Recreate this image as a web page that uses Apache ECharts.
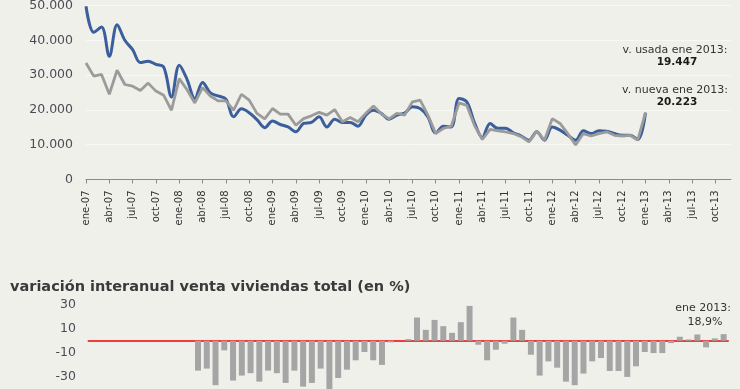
<!DOCTYPE html>
<html>
<head>
<meta charset="utf-8">
<script src="https://cdn.jsdelivr.net/npm/echarts@6/dist/echarts.min.js"></script>
<style>
html,body{margin:0;padding:0;background:#f0f0eb;}
#c{width:740px;height:389px;}
</style>
</head>
<body>
<div id="c"></div>
<script>
// month abbreviations and years for the category axis
var monthNames = ['ene','feb','mar','abr','may','jun','jul','ago','sep','oct','nov','dic'];
var years = ['07','08','09','10','11','12','13'];

// monthly sales, ene-07 .. ene-13 (blue series)
var ventaAzul = [
49800,42300,43800,35400,44500,40000,37300,33600,34000,33100,32300,23700,
32800,28800,23300,27900,24900,24000,23100,18000,20300,19200,17200,14900,
16800,15800,15100,13700,16100,16400,18000,15100,17300,16400,16400,15300,
18500,19900,19000,17300,18500,19100,20900,20400,18000,13400,15300,15100,
23300,22300,16300,12100,16100,14700,14700,13400,12500,11300,13700,11300,
15100,14200,12700,11300,14000,13200,14000,13900,13200,12700,12700,11500,
19200];

// monthly sales, ene-07 .. ene-13 (grey series)
var ventaGris = [
33500,29700,30200,24500,31400,27300,26800,25600,27700,25400,24200,19900,
29000,25800,22000,26400,24000,22600,22600,19900,24500,22800,19000,17400,
20400,18800,18800,15600,17500,18300,19300,18500,20100,16600,17800,16600,
19000,21100,18900,17400,19000,18500,22300,22800,18500,13200,14700,15300,
22000,21300,15500,11500,14400,14000,13700,13200,12300,10800,13900,11300,
17500,16100,13200,9900,13200,12500,13200,13700,12700,12500,12700,11300,
19300];

// year-on-year variation (%), ene-08 .. ene-13
var variacion = [
-25.2,-23.5,-37.5,-8.1,-33.6,-29.4,-27.4,-34.5,-25.2,-27.4,-35.6,-25.2,
-38.7,-35.6,-23.5,-44,-31.4,-24.4,-16.5,-9.5,-16.5,-20.4,-1.4,0,
1.4,19.6,9.2,17.6,12.3,6.7,15.7,29.4,-3.4,-16.5,-7.6,-2.5,
19.6,9.2,-11.8,-29.4,-17.4,-22.7,-34.5,-37.5,-27.7,-17.4,-14.6,-25.5,
-25.5,-30.5,-21.6,-9.5,-10.4,-10.4,-2,3.4,1.1,5.3,-5.6,2,
5.6];

// annotation texts
var notaUsada = ['v. usada ene 2013:', '19.447'];
var notaNueva = ['v. nueva ene 2013:', '20.223'];
var notaVar = ['ene 2013:', '18,9%'];
var tituloVar = 'variación interanual venta viviendas total (en %)';

// build category labels
var catsTop = [];
years.forEach(function(y){ monthNames.forEach(function(m){ catsTop.push(m + '-' + y); }); });
var catsBottom = catsTop.slice(0, ventaAzul.length);
var barData = [];
for (var i = 0; i < catsBottom.length - variacion.length; i++) barData.push(null);
barData = barData.concat(variacion);

var FONT = 'DejaVu Sans';
var chart = echarts.init(document.getElementById('c'), null, {renderer:'canvas'});
function fmtThousands(v){
  return String(v).replace(/\B(?=(\d{3})+(?!\d))/g, '.');
}
chart.setOption({
  backgroundColor: '#f0f0eb',
  animation: false,
  textStyle: {fontFamily: FONT},
  grid: [
    {left: 86, right: 9, top: 5.5, height: 174, outerBoundsMode: 'none', containLabel: false},
    {left: 88.5, right: 12, top: 305.2, height: 94.8, outerBoundsMode: 'none', containLabel: false}
  ],
  xAxis: [
    {
      gridIndex: 0, type: 'category', data: catsTop, boundaryGap: false,
      axisLine: {lineStyle: {color: '#8a8a8a', width: 1}},
      axisTick: {interval: 2, length: 4, lineStyle: {color: '#8a8a8a'}},
      axisLabel: {interval: 2, rotate: 90, fontSize: 10, color: '#333', margin: 11, fontFamily: FONT},
      splitLine: {show: false}
    },
    {
      gridIndex: 1, type: 'category', data: catsBottom, boundaryGap: true,
      axisLine: {onZero: true, lineStyle: {color: '#f03c3c', width: 2}},
      axisTick: {show: false},
      axisLabel: {show: false},
      splitLine: {show: false}
    }
  ],
  yAxis: [
    {
      gridIndex: 0, type: 'value', min: 0, max: 50000, interval: 10000,
      axisLine: {show: false}, axisTick: {show: false},
      axisLabel: {fontSize: 12.5, color: '#4d4a55', margin: 13, formatter: fmtThousands, fontFamily: FONT},
      splitLine: {lineStyle: {color: '#f8f8f5', width: 1}}
    },
    {
      gridIndex: 1, type: 'value', min: -50, max: 30, interval: 20,
      axisLine: {show: false}, axisTick: {show: false},
      axisLabel: {fontSize: 12.5, color: '#4d4a55', margin: 12.5, fontFamily: FONT},
      splitLine: {show: false}
    }
  ],
  series: [
    {
      type: 'line', xAxisIndex: 0, yAxisIndex: 0, data: ventaAzul,
      smooth: 0.35, showSymbol: false, symbol: 'none',
      lineStyle: {color: '#3b5f9c', width: 3}
    },
    {
      type: 'line', xAxisIndex: 0, yAxisIndex: 0, data: ventaGris,
      smooth: false, showSymbol: false, symbol: 'none',
      lineStyle: {color: '#9b9b9b', width: 2.8}
    },
    {
      type: 'bar', xAxisIndex: 1, yAxisIndex: 1, data: barData,
      barWidth: 6, itemStyle: {color: '#a5a5a5'}, z: 1
    }
  ],
  graphic: [
    {type: 'text', x: 675, y: 50, style: {text: notaUsada[0], fill: '#333', font: '11px "DejaVu Sans"', textAlign: 'center', verticalAlign: 'middle'}},
    {type: 'text', x: 677, y: 62, style: {text: notaUsada[1], fill: '#1a1a1a', font: 'bold 10.5px "DejaVu Sans"', textAlign: 'center', verticalAlign: 'middle'}},
    {type: 'text', x: 675, y: 90, style: {text: notaNueva[0], fill: '#333', font: '11px "DejaVu Sans"', textAlign: 'center', verticalAlign: 'middle'}},
    {type: 'text', x: 677, y: 102, style: {text: notaNueva[1], fill: '#1a1a1a', font: 'bold 10.5px "DejaVu Sans"', textAlign: 'center', verticalAlign: 'middle'}},
    {type: 'text', x: 10, y: 287, style: {text: tituloVar, fill: '#3a3a3a', font: 'bold 14.5px "DejaVu Sans"', textAlign: 'left', verticalAlign: 'middle'}},
    {type: 'text', x: 703, y: 308, style: {text: notaVar[0], fill: '#333', font: '11px "DejaVu Sans"', textAlign: 'center', verticalAlign: 'middle'}},
    {type: 'text', x: 705, y: 322, style: {text: notaVar[1], fill: '#333', font: '11px "DejaVu Sans"', textAlign: 'center', verticalAlign: 'middle'}}
  ]
});
</script>
</body>
</html>
